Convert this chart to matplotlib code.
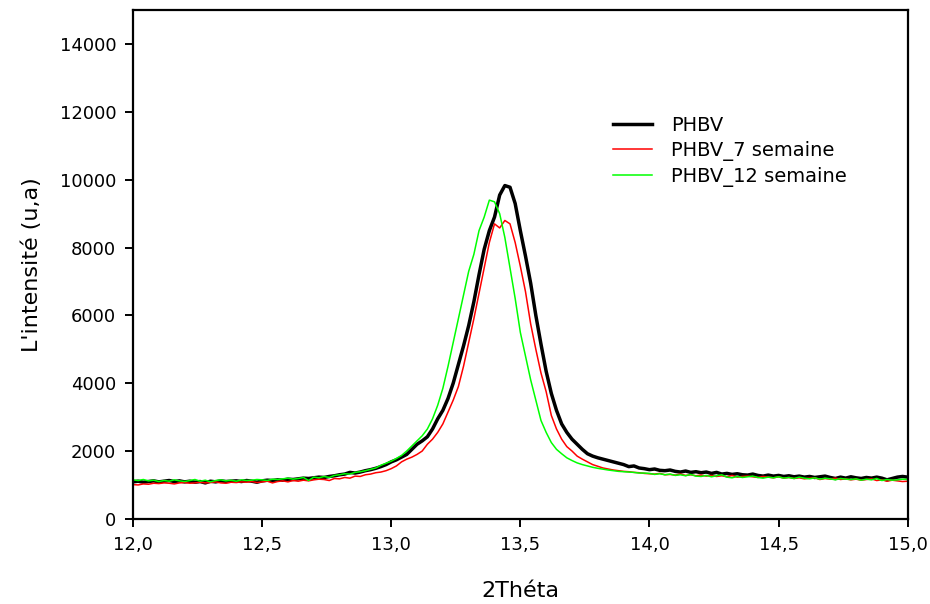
import numpy as np
import matplotlib
matplotlib.use("Agg")
import matplotlib.pyplot as plt
from matplotlib.ticker import FuncFormatter, MultipleLocator

plt.rcParams['font.family'] = ['DejaVu Sans']

# 2-theta grid (instrument step 0.02 deg)
theta = np.round(np.linspace(12.0, 15.0, 151), 2)

phbv = [
    1090, 1110, 1080, 1100, 1120, 1090, 1110, 1130, 1100, 1120,
    1090, 1110, 1080, 1100, 1060, 1110, 1090, 1120, 1100, 1110,
    1120, 1100, 1130, 1110, 1080, 1120, 1140, 1130, 1150, 1140,
    1170, 1160, 1180, 1200, 1190, 1210, 1230, 1220, 1250, 1270,
    1300, 1320, 1370, 1350, 1380, 1420, 1450, 1490, 1540, 1600,
    1680, 1740, 1820, 1900, 2050, 2200, 2300, 2420, 2650, 2950,
    3200, 3550, 4000, 4550, 5100, 5700, 6400, 7200, 7950, 8500,
    8900, 9550, 9830, 9780, 9300, 8500, 7750, 6950, 6000, 5150,
    4350, 3700, 3200, 2800, 2550, 2350, 2200, 2050, 1920, 1850,
    1800, 1760, 1720, 1680, 1640, 1600, 1540, 1560, 1500, 1480,
    1450, 1470, 1430, 1420, 1440, 1400, 1380, 1410, 1370, 1390,
    1360, 1380, 1340, 1370, 1320, 1340, 1310, 1330, 1300, 1290,
    1320, 1280, 1260, 1290, 1260, 1280, 1250, 1270, 1240, 1260,
    1230, 1250, 1220, 1240, 1260, 1220, 1190, 1230, 1200, 1240,
    1210, 1190, 1220, 1200, 1230, 1200, 1150, 1190, 1230, 1250,
    1230,
]

phbv_7 = [
    1010, 1000, 1030, 1020, 1050, 1040, 1060, 1050, 1030, 1060,
    1070, 1050, 1060, 1080, 1060, 1070, 1090, 1060, 1050, 1080,
    1070, 1090, 1080, 1100, 1070, 1090, 1110, 1060, 1100, 1120,
    1090, 1130, 1110, 1140, 1120, 1150, 1170, 1160, 1130, 1190,
    1180, 1220, 1200, 1260, 1250, 1300, 1320, 1360, 1380, 1420,
    1480, 1560, 1680, 1760, 1820, 1900, 2000, 2200, 2350, 2550,
    2800, 3150, 3500, 3900, 4500, 5200, 5900, 6650, 7400, 8150,
    8700, 8580, 8800, 8700, 8150, 7450, 6700, 5750, 5000, 4300,
    3750, 3050, 2650, 2350, 2130, 2000, 1850, 1760, 1680, 1600,
    1550, 1500, 1470, 1440, 1420, 1400, 1390, 1370, 1360, 1340,
    1330, 1320, 1340, 1300, 1310, 1290, 1320, 1280, 1300, 1270,
    1290, 1260, 1280, 1250, 1270, 1240, 1280, 1230, 1250, 1260,
    1240, 1220, 1250, 1230, 1210, 1240, 1200, 1220, 1190, 1210,
    1180, 1200, 1210, 1160, 1190, 1170, 1200, 1160, 1180, 1150,
    1170, 1140, 1160, 1180, 1130, 1150, 1110, 1140, 1120, 1100,
    1110,
]

phbv_12 = [
    1150, 1130, 1160, 1120, 1140, 1100, 1130, 1110, 1150, 1120,
    1100, 1130, 1160, 1110, 1140, 1090, 1130, 1150, 1120, 1140,
    1110, 1150, 1130, 1140, 1160, 1150, 1130, 1170, 1160, 1180,
    1200, 1170, 1190, 1220, 1130, 1230, 1210, 1250, 1220, 1280,
    1300, 1330, 1320, 1370, 1390, 1420, 1460, 1500, 1580, 1640,
    1700, 1780, 1870, 2000, 2150, 2300, 2450, 2650, 2950, 3350,
    3850, 4500, 5200, 5900, 6600, 7300, 7800, 8500, 8900, 9400,
    9350, 9000, 8300, 7400, 6500, 5500, 4800, 4100, 3500, 2900,
    2550, 2250, 2050, 1920, 1800, 1720, 1650, 1600, 1560, 1520,
    1490, 1465, 1440, 1420, 1400, 1390, 1380, 1370, 1350, 1350,
    1340, 1310, 1330, 1300, 1320, 1280, 1300, 1270, 1310, 1260,
    1250, 1280, 1240, 1270, 1300, 1230, 1210, 1250, 1220, 1240,
    1260, 1220, 1200, 1230, 1210, 1240, 1200, 1220, 1190, 1230,
    1200, 1180, 1210, 1170, 1200, 1180, 1150, 1190, 1170, 1160,
    1180, 1140, 1170, 1150, 1190, 1130, 1160, 1140, 1150, 1170,
    1160,
]

labels = ["PHBV", "PHBV_7 semaine", "PHBV_12 semaine"]

fig = plt.figure(figsize=(9.3, 6.04), dpi=100)
ax = fig.add_axes([0.143, 0.141, 0.833, 0.842])

ax.plot(theta, phbv, color='black', lw=2.5, label=labels[0])
ax.plot(theta, phbv_7, color='#ff0000', lw=1.1, label=labels[1])
ax.plot(theta, phbv_12, color='#00ff00', lw=1.1, label=labels[2])

ax.set_xlim(12.0, 15.0)
ax.set_ylim(0, 15000)
ax.xaxis.set_major_locator(MultipleLocator(0.5))
ax.set_yticks(np.arange(0, 14001, 2000))
ax.xaxis.set_major_formatter(FuncFormatter(lambda v, p: f"{v:.1f}".replace('.', ',')))
ax.yaxis.set_major_formatter(FuncFormatter(lambda v, p: f"{int(v)}"))

for s in ax.spines.values():
    s.set_linewidth(1.6)
ax.tick_params(direction='out', length=6, width=1.4, labelsize=13, pad=6)

ax.set_xlabel("2Théta", fontsize=16, labelpad=20)
ax.set_ylabel("L'intensité (u,a)", fontsize=16, labelpad=13)

ax.legend(loc='upper left', bbox_to_anchor=(0.619, 0.792), frameon=False,
          fontsize=14, handlelength=2.05, handletextpad=0.95, labelspacing=0.3,
          borderpad=0, borderaxespad=0)

fig.savefig("out.png", dpi=100)
